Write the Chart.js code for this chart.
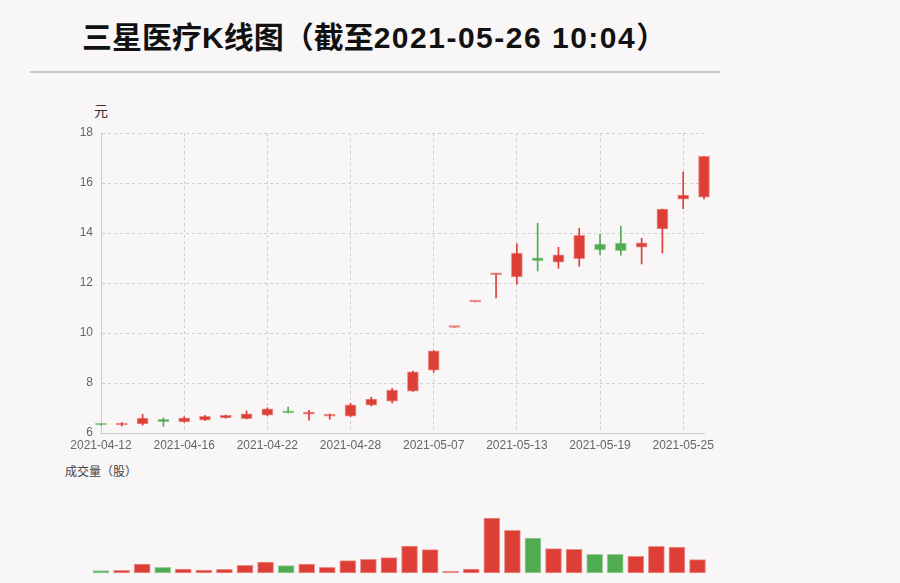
<!DOCTYPE html>
<html>
<head>
<meta charset="utf-8">
<script src="https://cdn.jsdelivr.net/npm/chart.js@4/dist/chart.umd.min.js"></script>
<style>
  html, body { margin: 0; padding: 0; }
  body { width: 900px; height: 583px; background: #f9f6f7; position: relative; overflow: hidden;
         font-family: "Liberation Sans", "Noto Sans CJK SC", sans-serif; }
  #title { position: absolute; left: 82px; top: 18px; line-height: 40px; font-size: 30px; font-weight: bold;
           color: #111; white-space: nowrap; }
  #title span { letter-spacing: 1.5px; }
  #rule { position: absolute; left: 30px; top: 71px; width: 690px; height: 2px; background: #c9c7c8; }
  #unit { position: absolute; left: 94px; top: 101px; font-size: 14px; line-height: 18px; color: #333;
          font-family: "Noto Sans CJK SC", sans-serif; }
  #volLabel { position: absolute; left: 65px; top: 463px; font-size: 12px; line-height: 16px; color: #444;
              font-family: "Noto Sans CJK SC", sans-serif; }
  #priceBox { position: absolute; left: 0; top: 0; width: 900px; height: 460px; }
  #volBox { position: absolute; left: 0; top: 480px; width: 900px; height: 103px; }
</style>
</head>
<body>
<div id="title">三星医疗K线图（截至<span>2021-05-26 10:04</span>）</div>
<div id="rule"></div>
<div id="unit">元</div>
<div id="volLabel">成交量（股）</div>
<div id="priceBox"><canvas id="price"></canvas></div>
<div id="volBox"><canvas id="vol"></canvas></div>
<script>
// 交易日
const dates = [
  '2021-04-12', '2021-04-13', '2021-04-14', '2021-04-15', '2021-04-16',
  '2021-04-19', '2021-04-20', '2021-04-21', '2021-04-22', '2021-04-23',
  '2021-04-26', '2021-04-27', '2021-04-28', '2021-04-29', '2021-04-30',
  '2021-05-06', '2021-05-07', '2021-05-10', '2021-05-11', '2021-05-12',
  '2021-05-13', '2021-05-14', '2021-05-17', '2021-05-18', '2021-05-19',
  '2021-05-20', '2021-05-21', '2021-05-24', '2021-05-25', '2021-05-26'
];
const opens = [6.36, 6.32, 6.36, 6.55, 6.44, 6.51, 6.60, 6.57, 6.71, 6.89,
  6.75, 6.67, 6.67, 7.11, 7.27, 7.67, 8.51, 10.22, 11.24, 12.33,
  12.24, 13.01, 12.83, 12.97, 13.56, 13.60, 13.43, 14.16, 15.35, 15.43];
const closes = [6.32, 6.40, 6.60, 6.45, 6.61, 6.67, 6.71, 6.77, 6.97, 6.80,
  6.84, 6.75, 7.13, 7.36, 7.72, 8.45, 9.29, 10.22, 11.24, 12.36,
  13.20, 12.89, 13.13, 13.91, 13.32, 13.29, 13.61, 14.96, 15.52, 17.07];
const highs = [6.37, 6.42, 6.75, 6.60, 6.65, 6.71, 6.72, 6.88, 7.01, 7.04,
  6.91, 6.76, 7.19, 7.43, 7.79, 8.48, 9.29, 10.22, 11.24, 12.36,
  13.57, 14.39, 13.43, 14.19, 13.95, 14.27, 13.79, 14.96, 16.44, 17.07];
const lows = [6.31, 6.28, 6.31, 6.27, 6.43, 6.50, 6.59, 6.56, 6.70, 6.80,
  6.51, 6.55, 6.66, 7.08, 7.20, 7.66, 8.43, 10.22, 11.24, 11.40,
  11.95, 12.48, 12.59, 12.67, 13.13, 13.11, 12.76, 13.20, 14.97, 15.36];
const volumes = [2300000, 2700000, 9000000, 5700000, 4000000, 3000000, 3700000, 7700000, 11000000, 7300000,
  9000000, 5700000, 12300000, 13700000, 15300000, 27000000, 23300000, 2000000, 4000000, 55000000,
  42700000, 35000000, 24300000, 23700000, 18700000, 18700000, 16700000, 26700000, 26000000, 13300000];
const priceTicks = [6, 8, 10, 12, 14, 16, 18];
const labelEvery = 4;

const RED = '#dd3e36';
const GREEN = '#50ac50';
const RED_EDGE = 'rgba(221, 62, 54, 0.55)';
const GREEN_EDGE = 'rgba(80, 172, 80, 0.55)';
const GRID = '#cfcfcf';

const isUp = i => closes[i] >= opens[i];
const fill = dates.map((d, i) => isUp(i) ? RED : GREEN);
const edge = dates.map((d, i) => isUp(i) ? RED_EDGE : GREEN_EDGE);

const tickFont = { family: '"Liberation Sans", Arial, sans-serif', size: 12 };

new Chart(document.getElementById('price'), {
  type: 'bar',
  data: {
    labels: dates,
    datasets: [
      {
        label: 'body',
        data: dates.map((d, i) => [opens[i], closes[i]]),
        backgroundColor: fill,
        borderColor: edge,
        borderWidth: 1,
        borderSkipped: false,
        barThickness: 11,
        minBarLength: 2,
        grouped: false,
        clip: false
      },
      {
        label: 'wick',
        data: dates.map((d, i) => [lows[i], highs[i]]),
        backgroundColor: fill,
        borderWidth: 0,
        barThickness: 1,
        grouped: false,
        clip: false
      }
    ]
  },
  options: {
    responsive: true,
    maintainAspectRatio: false,
    animation: false,
    layout: { padding: { left: 0, top: 133, right: 196, bottom: 0 } },
    plugins: { legend: { display: false }, tooltip: { enabled: false } },
    scales: {
      x: {
        offset: false,
        grid: {
          offset: false,
          drawTicks: false,
          color: c => c.index % labelEvery === 0 ? GRID : 'rgba(0,0,0,0)'
        },
        border: { color: '#cccccc', dash: [3, 3] },
        ticks: {
          autoSkip: false,
          maxRotation: 0,
          padding: 5,
          color: '#666',
          font: tickFont,
          callback: (v, i) => i % labelEvery === 0 ? dates[i] : ''
        },
        afterFit: s => { s.height = 27; }
      },
      y: {
        min: priceTicks[0],
        max: priceTicks[priceTicks.length - 1],
        grid: { color: GRID, drawTicks: false },
        border: { color: '#cccccc', dash: [3, 3] },
        ticks: { stepSize: 2, padding: 8, color: '#666', font: tickFont },
        afterFit: s => { s.width = 101; }
      }
    }
  }
});

new Chart(document.getElementById('vol'), {
  type: 'bar',
  data: {
    labels: dates,
    datasets: [{
      label: '成交量',
      data: volumes,
      backgroundColor: fill,
      borderColor: edge,
      borderWidth: 1,
      borderSkipped: false,
      barThickness: 16,
      clip: false
    }]
  },
  options: {
    responsive: true,
    maintainAspectRatio: false,
    animation: false,
    layout: { padding: { left: 101, top: 0, right: 202.5, bottom: 10 } },
    plugins: { legend: { display: false }, tooltip: { enabled: false } },
    scales: {
      x: { display: false, offset: false },
      y: { display: false, min: 0, max: 93000000 }
    }
  }
});
</script>
</body>
</html>
